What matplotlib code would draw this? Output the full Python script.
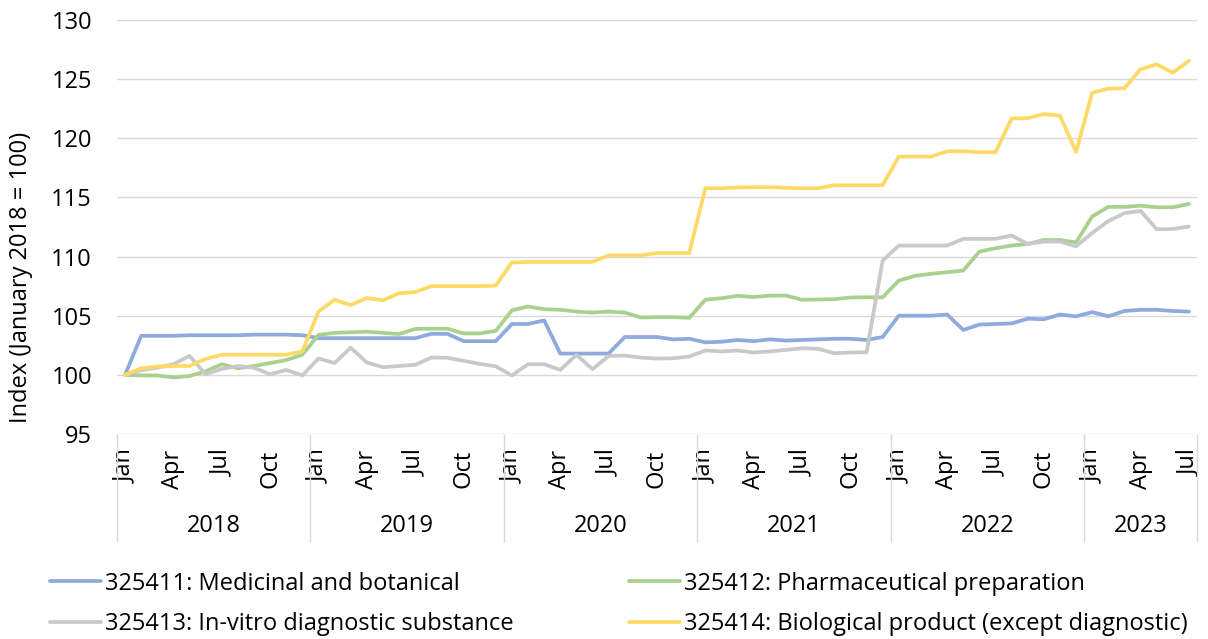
import matplotlib
matplotlib.use("Agg")
import matplotlib.pyplot as plt
import matplotlib.transforms as mtransforms
import numpy as np

plt.rcParams['font.family'] = ['Open Sans', 'DejaVu Sans']

# Monthly index values, Jan 2018 .. Jul 2023 (January 2018 = 100)
years = [2018, 2019, 2020, 2021, 2022, 2023]
month_names = ['Jan', 'Apr', 'Jul', 'Oct']

medicinal = [
    100.0, 103.3, 103.3, 103.3, 103.35, 103.35, 103.35, 103.35, 103.4, 103.4, 103.4, 103.35,
    103.1, 103.1, 103.1, 103.1, 103.1, 103.1, 103.1, 103.47, 103.47, 102.85, 102.85, 102.85,
    104.3, 104.3, 104.6, 101.8, 101.8, 101.8, 101.8, 103.2, 103.2, 103.2, 103.0, 103.05,
    102.75, 102.8, 102.95, 102.85, 103.0, 102.9, 102.95, 103.0, 103.05, 103.05, 102.95, 103.2,
    105.0, 105.0, 105.0, 105.1, 103.8, 104.25, 104.3, 104.35, 104.75, 104.7, 105.1, 104.95,
    105.3, 104.95, 105.4, 105.5, 105.5, 105.4, 105.35,
]
pharma = [
    100.0, 99.95, 99.95, 99.78, 99.9, 100.3, 100.9, 100.55, 100.75, 101.0, 101.25, 101.7,
    103.38, 103.55, 103.6, 103.65, 103.55, 103.45, 103.88, 103.9, 103.9, 103.5, 103.5, 103.72,
    105.45, 105.78, 105.55, 105.5, 105.35, 105.27, 105.35, 105.27, 104.85, 104.88, 104.88, 104.82,
    106.35, 106.48, 106.68, 106.58, 106.7, 106.7, 106.35, 106.37, 106.4, 106.54, 106.56, 106.56,
    107.97, 108.37, 108.54, 108.68, 108.82, 110.42, 110.71, 110.93, 111.07, 111.4, 111.4, 111.2,
    113.4, 114.2, 114.2, 114.3, 114.17, 114.17, 114.45,
]
invitro = [
    100.0, 100.4, 100.6, 100.9, 101.6, 100.05, 100.5, 100.75, 100.6, 100.05, 100.42, 99.95,
    101.38, 101.0, 102.3, 101.04, 100.65, 100.75, 100.85, 101.46, 101.45, 101.18, 100.93, 100.72,
    99.95, 100.9, 100.9, 100.42, 101.69, 100.48, 101.6, 101.63, 101.46, 101.38, 101.4, 101.55,
    102.06, 101.98, 102.06, 101.89, 101.98, 102.11, 102.25, 102.2, 101.83, 101.89, 101.91, 109.66,
    110.93, 110.93, 110.93, 110.93, 111.5, 111.5, 111.5, 111.78, 111.07, 111.27, 111.27, 110.87,
    112.0, 113.0, 113.67, 113.86, 112.31, 112.33, 112.54,
]
biological = [
    100.0, 100.55, 100.7, 100.75, 100.75, 101.35, 101.7, 101.7, 101.7, 101.7, 101.7, 102.0,
    105.35, 106.35, 105.9, 106.5, 106.3, 106.9, 107.0, 107.5, 107.5, 107.5, 107.5, 107.55,
    109.5, 109.55, 109.55, 109.55, 109.55, 109.55, 110.1, 110.1, 110.1, 110.3, 110.3, 110.3,
    115.78, 115.78, 115.84, 115.87, 115.87, 115.81, 115.78, 115.78, 116.03, 116.03, 116.03, 116.03,
    118.45, 118.45, 118.45, 118.9, 118.9, 118.82, 118.82, 121.67, 121.7, 122.05, 121.9, 118.85,
    123.85, 124.2, 124.23, 125.84, 126.25, 125.55, 126.55,
]

series_labels = [
    '325411: Medicinal and botanical',
    '325412: Pharmaceutical preparation',
    '325413: In-vitro diagnostic substance',
    '325414: Biological product (except diagnostic)',
]
series_colors = ['#8faadc', '#a9d18e', '#c9c9c9', '#ffd966']

FS = 17
W, H = 1208, 639
fig = plt.figure(figsize=(W / 100, H / 100), dpi=100)
ax = fig.add_axes([117 / W, 1 - 434 / H, 1080 / W, 414 / H])

n = len(medicinal)
x = np.arange(n)
lines = []
for vals, lab, col in zip([medicinal, pharma, invitro, biological], series_labels, series_colors):
    ln, = ax.plot(x, vals, color=col, lw=2.7, label=lab, solid_joinstyle='round',
                  solid_capstyle='round', zorder=3)
    lines.append(ln)

ax.set_xlim(-0.5, n - 0.5)
ax.set_ylim(95, 130)
ax.set_yticks(np.arange(95, 131, 5))
ax.yaxis.grid(True, color='#d9d9d9', lw=1.0)
ax.set_axisbelow(True)
for s in ax.spines.values():
    s.set_visible(False)
ax.tick_params(axis='y', length=0, pad=18, labelsize=FS, labelcolor='#000000')

# Month labels every quarter
qpos = list(range(0, n, 3))
qlab = [month_names[(p % 12) // 3] for p in qpos]
ax.set_xticks(qpos)
ax.set_xticklabels(qlab, rotation=90, va='top', ha='center')
ax.tick_params(axis='x', length=0, pad=11, labelsize=FS)

# Year groups: separators and centred labels
trans = mtransforms.blended_transform_factory(ax.transData, ax.transAxes)
bounds = [-0.5] + [12 * k - 0.5 for k in range(1, len(years))] + [n - 0.5]
ax.vlines(bounds, -0.26, 0, transform=trans, colors='#d9d9d9', lw=1.0, clip_on=False)
for i, yr in enumerate(years):
    c = (bounds[i] + bounds[i + 1]) / 2
    ax.text(c, -0.222, str(yr), transform=trans, ha='center', va='center', fontsize=FS)

fig.text(21 / W, 1 - 277 / H, 'Index (January 2018 = 100)', rotation=90,
         ha='center', va='center', fontsize=FS)

leg_kw = dict(loc='center left', frameon=False, fontsize=FS, handlelength=2.15,
              handletextpad=0.2, borderpad=0, borderaxespad=0, labelspacing=0.71)
leg1 = fig.legend([lines[0], lines[2]], [series_labels[0], series_labels[2]],
                  bbox_to_anchor=(50 / W, 1 - 604 / H), **leg_kw)
leg2 = fig.legend([lines[1], lines[3]], [series_labels[1], series_labels[3]],
                  bbox_to_anchor=(629 / W, 1 - 604 / H), **leg_kw)

fig.savefig('out.png', dpi=100)
